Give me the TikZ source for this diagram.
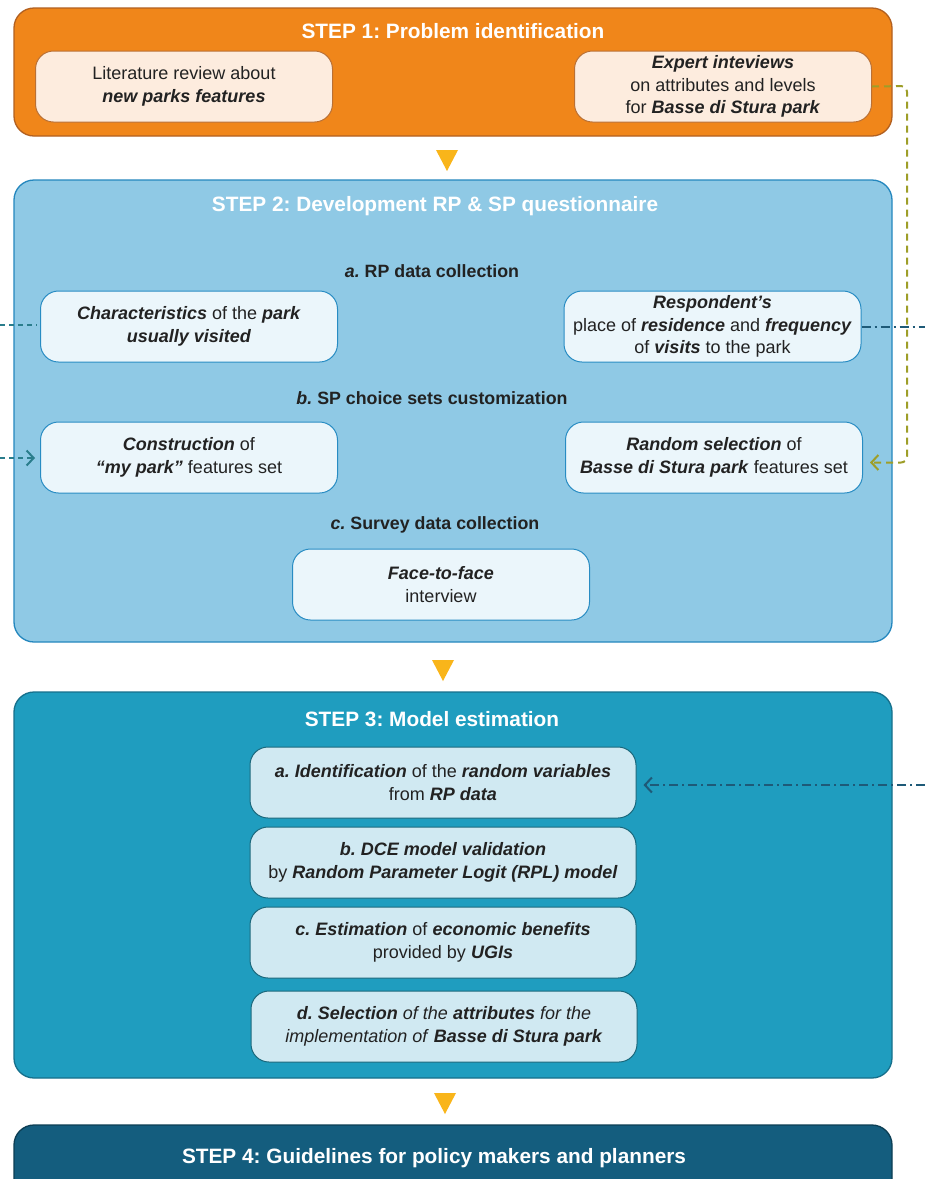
\documentclass[tikz,border=0pt]{standalone}
\usepackage{fontspec}
\setmainfont{Liberation Sans}
\usetikzlibrary{arrows.meta}
\definecolor{sAfill}{RGB}{240,134,26}
\definecolor{sAline}{RGB}{178,96,32}
\definecolor{sAin}{RGB}{253,236,222}
\definecolor{sAinline}{RGB}{186,112,52}
\definecolor{sBfill}{RGB}{143,201,229}
\definecolor{sBline}{RGB}{36,135,190}
\definecolor{sBin}{RGB}{235,246,251}
\definecolor{sBinline}{RGB}{40,140,195}
\definecolor{sCfill}{RGB}{31,157,191}
\definecolor{sCline}{RGB}{22,112,140}
\definecolor{sCin}{RGB}{208,233,242}
\definecolor{sCinline}{RGB}{26,104,124}
\definecolor{sDfill}{RGB}{20,93,126}
\definecolor{sDline}{RGB}{12,62,84}
\definecolor{triyel}{RGB}{249,181,26}
\definecolor{txtdark}{RGB}{34,34,34}
\definecolor{olive}{RGB}{158,158,40}
\definecolor{tealdash}{RGB}{42,125,140}
\definecolor{navydash}{RGB}{30,90,120}
\newcommand{\bi}[1]{\textbf{\textit{#1}}}
\frenchspacing
\begin{document}
\frenchspacing
\begin{tikzpicture}[x=1pt,y=-1pt,
  stepbox/.style={draw, line width=1.3pt, rounded corners=20pt, minimum width=878pt, inner sep=0pt},
  steptitle/.style={text=white, font=\fontsize{20.8}{25}\selectfont\bfseries},
  seclabel/.style={text=txtdark, font=\fontsize{17.8}{21}\selectfont\bfseries},
  inbox/.style={draw, line width=1pt, rounded corners=18pt, minimum width=297pt, minimum height=71pt,
     inner sep=0pt, align=center, text=txtdark, font=\fontsize{18}{22.5}\selectfont},
  tri/.style={fill=triyel},
  oliveline/.style={draw=olive, line width=2pt, dash pattern=on 7pt off 5pt},
  tealline/.style={draw=tealdash, line width=2pt, dash pattern=on 5pt off 4pt},
  navyline/.style={draw=navydash, line width=2pt, dash pattern=on 9pt off 4pt on 2pt off 4pt},
  barb/.style={-{Straight Barb[length=7pt,width=15pt,line width=2pt]}}
]
\clip (0,0) rectangle (925,1179);
\fill[white] (0,0) rectangle (925,1179);

% ---------- STEP 1 ----------
\node[stepbox, fill=sAfill, draw=sAline, minimum height=128pt] (s1) at (453,72) {};
\node[steptitle] (s1t) at (453,31) {STEP 1: Problem identification};
\node[inbox, fill=sAin, draw=sAinline] (lit) at (184,86.5) {Literature review about\\ \bi{new parks features}};
\node[inbox, fill=sAin, draw=sAinline] (exp) at (723,86.5) {\bi{Expert inteviews}\\ on attributes and levels\\ for \bi{Basse di Stura park}};

\fill[tri] (436,150) -- (458,150) -- (447,171) -- cycle;

% ---------- STEP 2 ----------
\node[stepbox, fill=sBfill, draw=sBline, minimum height=462pt] (s2) at (453,411) {};
\node[steptitle] (s2t) at (435,206) {STEP 2: Development RP \& SP questionnaire};
\node[seclabel] (la) at (432,271) {\textit{a.} RP data collection};
\node[inbox, fill=sBin, draw=sBinline] (char) at (189,326.5) {\bi{Characteristics} of the \bi{park}\\ \bi{usually visited}};
\node[inbox, fill=sBin, draw=sBinline] (resp) at (712.5,326.5) {\bi{Respondent’s}\\ place of \bi{residence} and \bi{frequency}\\ of \bi{visits} to the park};
\node[seclabel] (lb) at (432,398) {\textit{b.} SP choice sets customization};
\node[inbox, fill=sBin, draw=sBinline] (constr) at (189,457.5) {\bi{Construction} of\\ \bi{“my park”} features set};
\node[inbox, fill=sBin, draw=sBinline] (rand) at (714,457.5) {\bi{Random selection} of\\ \bi{Basse di Stura park} features set};
\node[seclabel] (lc) at (435,525) {\textit{c.} Survey data collection};
\node[inbox, fill=sBin, draw=sBinline] (face) at (441,584.5) {\bi{Face-to-face}\\ interview};

\fill[tri] (432,660) -- (454,660) -- (443,681) -- cycle;

% ---------- STEP 3 ----------
\node[stepbox, fill=sCfill, draw=sCline, minimum height=386pt] (s3) at (453,885) {};
\node[steptitle] (s3t) at (432,719) {STEP 3: Model estimation};
\node[inbox, fill=sCin, draw=sCinline, minimum width=386pt] (ma) at (443,782.5) {\bi{a. Identification} of the \bi{random variables}\\ from \bi{RP data}};
\node[inbox, fill=sCin, draw=sCinline, minimum width=386pt] (mb) at (443,862.5) {\bi{b. DCE model validation}\\ by \bi{Random Parameter Logit (RPL) model}};
\node[inbox, fill=sCin, draw=sCinline, minimum width=386pt] (mc) at (443,942.5) {\bi{c. Estimation} of \bi{economic benefits}\\ provided by \bi{UGIs}};
\node[inbox, fill=sCin, draw=sCinline, minimum width=386pt] (md) at (444,1026.5) {\bi{d. Selection} \textit{of the} \bi{attributes} \textit{for the}\\ \textit{implementation of} \bi{Basse di Stura park}};

\fill[tri] (434,1093) -- (456,1093) -- (445,1114) -- cycle;

% ---------- STEP 4 ----------
\node[stepbox, fill=sDfill, draw=sDline, minimum height=80pt] (s4) at (453,1165) {};
\node[steptitle] (s4t) at (434,1158) {STEP 4: Guidelines for policy makers and planners};

% ---------- connectors ----------
\coordinate (lefta) at (0,325);
\coordinate (leftb) at (0,458);
\coordinate (righta) at (925,327);
\coordinate (rightb) at (925,785);

\draw[oliveline, barb, rounded corners=6pt] (exp.east) -- (907,86) -- (907,462.5) -- ([xshift=7pt]rand.east |- 0,462.5);
\draw[navyline] (resp.east |- righta) -- (righta);
\draw[tealline] (lefta) -- ([xshift=-3pt]char.west |- lefta);
\draw[tealline, barb] (leftb) -- ([xshift=-5pt]constr.west |- leftb);
\draw[navyline, barb] (rightb) -- ([xshift=7pt]ma.east |- rightb);
\end{tikzpicture}
\end{document}
